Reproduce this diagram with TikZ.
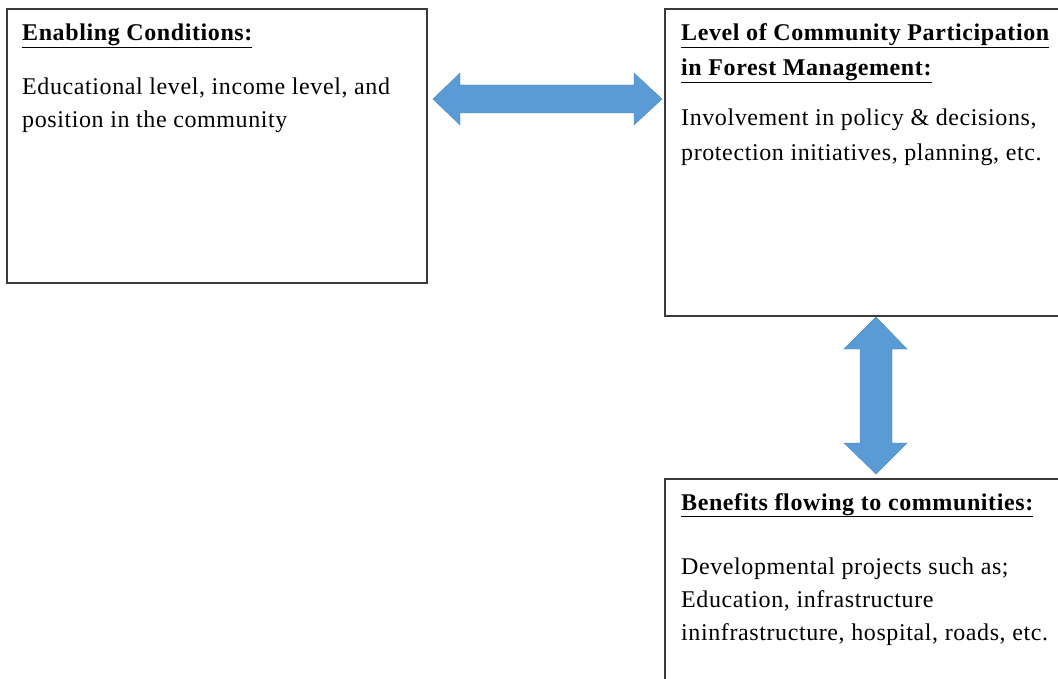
\documentclass[tikz,border=0pt]{standalone}
\usepackage{fontspec}
\setmainfont{Liberation Serif}[LetterSpace=2.5]
\definecolor{arrowblue}{HTML}{5B9BD5}
\definecolor{arrowedge}{HTML}{4A89C4}
\definecolor{boxline}{HTML}{3A3A3A}
\begin{document}
\begin{tikzpicture}[x=1pt,y=-1pt,
  box/.style={draw=boxline,line width=1.3pt},
  txt/.style={anchor=base west,inner sep=0pt,font=\fontsize{24}{30}\selectfont},
  head/.style={txt,font=\fontsize{24}{30}\selectfont\bfseries},
  blockarrow/.style={fill=arrowblue,draw=arrowedge,line width=0.4pt,line join=miter}]
\useasboundingbox (0,0) rectangle (1058,679);
% boxes
\draw[box] (7,9) rectangle (427,283);
\draw[box] (665,9) rectangle (1070,316);
\draw[box] (665,479) rectangle (1070,690);
% box 1 text
\node[head] (h1) at (22,41) {\underline{Enabling Conditions:}};
\node[txt] (b1a) at (22,95) {Educational level, income level, and};
\node[txt] (b1b) at (22,128) {position in the community};
% box 2 text
\node[head] (h2a) at (681,41) {\underline{Level of Community Participation}};
\node[head] (h2b) at (681,76) {\underline{in Forest Management:}};
\node[txt] (b2a) at (681,126) {Involvement in policy \& decisions,};
\node[txt] (b2b) at (681,161) {protection initiatives, planning, etc.};
% box 3 text
\node[head] (h3) at (681,510) {\underline{Benefits flowing to communities:}};
\node[txt] (b3a) at (681,574) {Developmental projects such as;};
\node[txt] (b3b) at (681,607) {Education, infrastructure};
\node[txt] (b3c) at (681,640) {ininfrastructure, hospital, roads, etc.};
% horizontal double arrow
\draw[blockarrow] (433,99) -- (460,73) -- (460,85) -- (634,85) -- (634,73) -- (662,99)
  -- (634,125) -- (634,113) -- (460,113) -- (460,125) -- cycle;
% vertical double arrow
\draw[blockarrow] (876,317) -- (907,349) -- (892,349) -- (892,443) -- (907,443) -- (876,474)
  -- (844,443) -- (860,443) -- (860,349) -- (844,349) -- cycle;
\end{tikzpicture}
\end{document}
